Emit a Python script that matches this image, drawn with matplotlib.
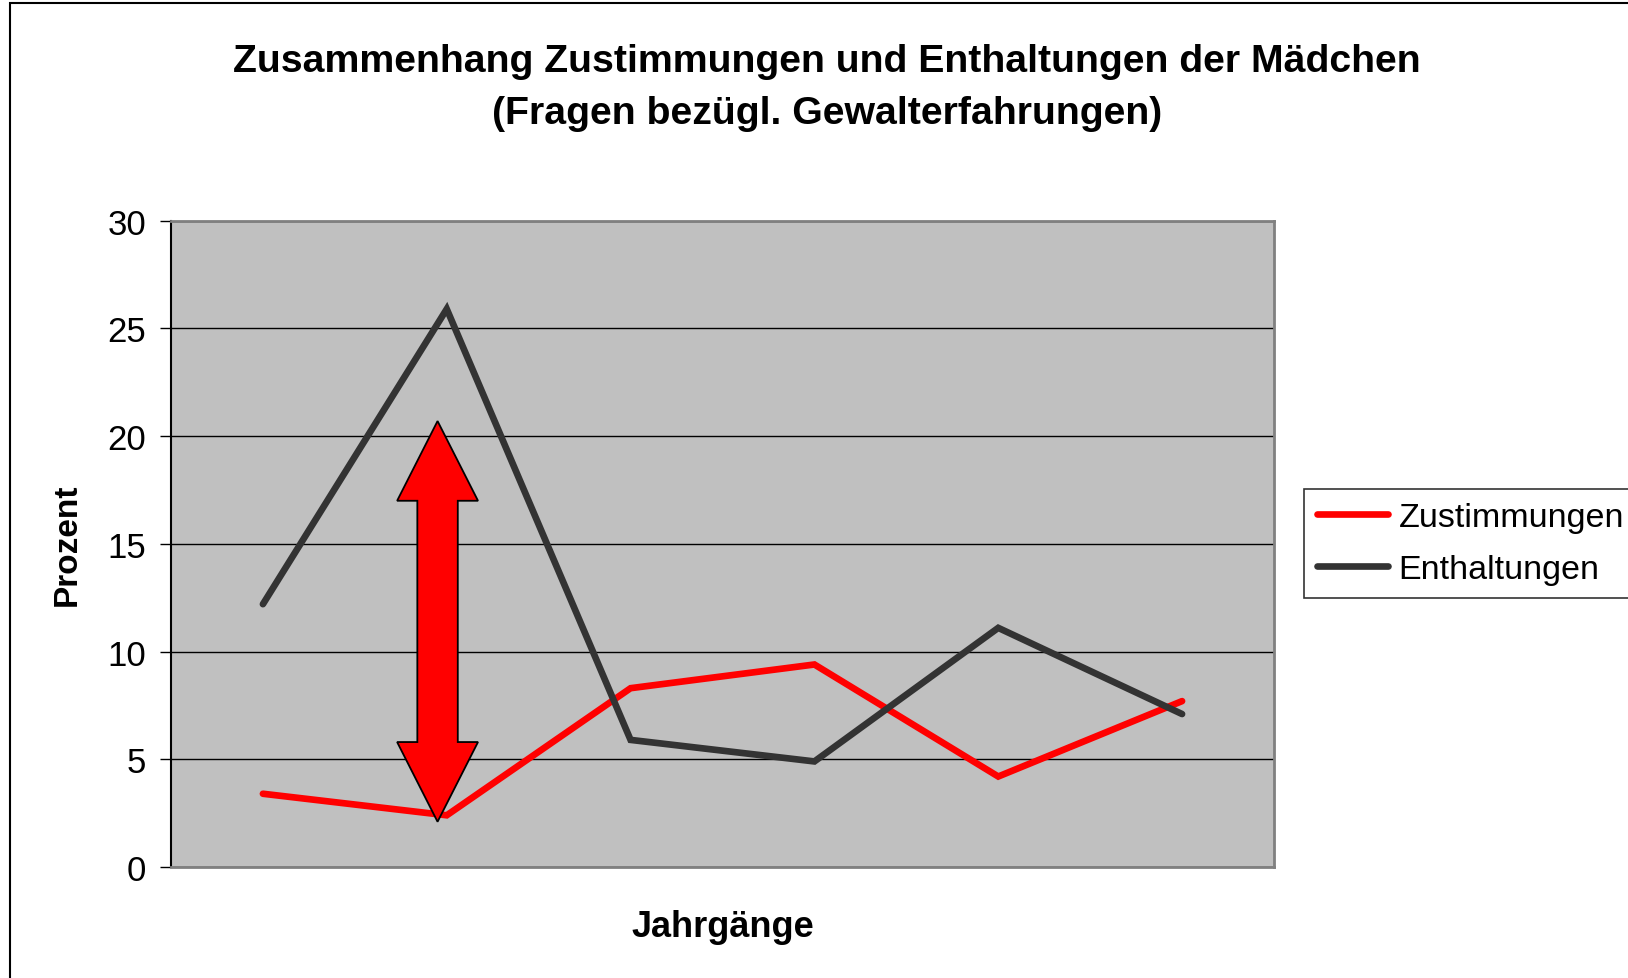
import matplotlib
matplotlib.use("Agg")
import matplotlib.pyplot as plt
from matplotlib.patches import Polygon, Rectangle

plt.rcParams['font.family'] = ['Liberation Sans', 'DejaVu Sans']

# Jahrgänge (no labels shown in the chart)
jahrgaenge = ["1", "2", "3", "4", "5", "6"]
zustimmungen = [3.4, 2.4, 8.3, 9.4, 4.2, 7.7]
enthaltungen = [12.2, 25.9, 5.9, 4.9, 11.1, 7.1]

# double arrow marking the gap (data coords)
arrow_x = 0.95
arrow_bottom, arrow_top = 2.1, 20.7
head_len = 3.7
head_half, shaft_half = 0.22, 0.11

fig = plt.figure(figsize=(16.28, 9.79), dpi=100)
ax = fig.add_axes([171 / 1628, 1 - 868 / 979, (1274 - 171) / 1628, (868 - 221.7) / 979])

x = list(range(len(jahrgaenge)))
ax.set_facecolor('#C0C0C0')
ax.plot(x, zustimmungen, color='#FF0000', lw=4.8, solid_capstyle='round',
        solid_joinstyle='miter', label='Zustimmungen', zorder=3)
ax.plot(x, enthaltungen, color='#333333', lw=4.8, solid_capstyle='round',
        solid_joinstyle='miter', label='Enthaltungen', zorder=3)

pts = [
    (arrow_x, arrow_top),
    (arrow_x + head_half, arrow_top - head_len),
    (arrow_x + shaft_half, arrow_top - head_len),
    (arrow_x + shaft_half, arrow_bottom + head_len),
    (arrow_x + head_half, arrow_bottom + head_len),
    (arrow_x, arrow_bottom),
    (arrow_x - head_half, arrow_bottom + head_len),
    (arrow_x - shaft_half, arrow_bottom + head_len),
    (arrow_x - shaft_half, arrow_top - head_len),
    (arrow_x - head_half, arrow_top - head_len),
]
ax.add_patch(Polygon(pts, closed=True, fc='#FF0000', ec='black', lw=1.3, zorder=4))

ax.set_xlim(-0.5, len(jahrgaenge) - 0.5)
ax.set_ylim(0, 30)
ax.set_yticks([0, 5, 10, 15, 20, 25, 30])
ax.set_xticks([])
ax.tick_params(axis='y', direction='out', length=8, width=1, pad=10, labelsize=25)
ax.yaxis.grid(True, color='black', lw=1)
ax.set_axisbelow(True)

for side in ['top', 'right', 'bottom']:
    ax.spines[side].set_color('#808080')
    ax.spines[side].set_linewidth(2)
ax.spines['left'].set_color('black')
ax.spines['left'].set_linewidth(1.5)

ax.set_ylabel('Prozent', fontsize=24, fontweight='bold', labelpad=18)
ax.set_xlabel('Jahrgänge', fontsize=26, fontweight='bold', labelpad=30)

fig.text(827 / 1628, 1 - 88 / 979,
         'Zusammenhang Zustimmungen und Enthaltungen der Mädchen\n(Fragen bezügl. Gewalterfahrungen)',
         ha='center', va='center', fontsize=28.3, fontweight='bold', linespacing=1.55)

leg = fig.legend(loc='upper left', bbox_to_anchor=(1304 / 1628, 1 - 490 / 979),
                 fontsize=24.5, frameon=True, fancybox=False, handlelength=2.1,
                 handletextpad=0.3, borderpad=0.38, labelspacing=0.62, borderaxespad=0)
leg.get_frame().set_edgecolor('black')
leg.get_frame().set_linewidth(1.2)

# outer chart border (cut off at right and bottom)
fig.add_artist(Rectangle((10 / 1628, -0.2), 2, 1.2 - 4 / 979, transform=fig.transFigure,
                         fill=False, ec='black', lw=1.5))

fig.savefig('out.png', dpi=100)
